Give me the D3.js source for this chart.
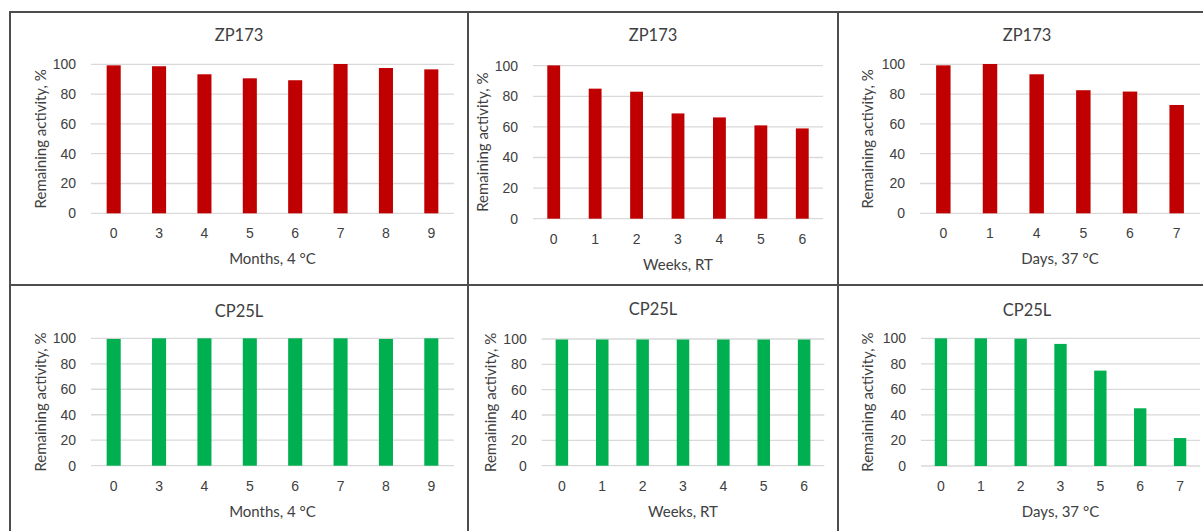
<!DOCTYPE html>
<html>
<head>
<meta charset="utf-8">
<script src="https://cdn.jsdelivr.net/npm/d3@7"></script>
<style>
  body { margin: 0; background: #fff; }
  svg { display: block; font-family: Lato, "Open Sans", sans-serif; }
</style>
</head>
<body>
<svg id="chart" width="1203" height="531"></svg>
<script>
// categories (time points)
const monthsCats = ["0", "3", "4", "5", "6", "7", "8", "9"];
const weeksCats = ["0", "1", "2", "3", "4", "5", "6"];
const daysZpCats = ["0", "1", "4", "5", "6", "7"];
const daysCpCats = ["0", "1", "2", "3", "5", "6", "7"];

// remaining activity, %
const zpMonths = [99.3, 98.7, 93.3, 90.6, 89.3, 100.2, 97.5, 96.6];
const zpWeeks = [100.2, 85, 83, 68.8, 66.2, 61, 59];
const zpDays = [99.3, 100.2, 93.3, 82.6, 81.7, 72.7];
const cpMonths = [99.5, 100, 100, 100, 100, 100, 99.5, 100];
const cpWeeks = [99.6, 99.6, 99.6, 99.6, 99.6, 99.6, 99.6];
const cpDays = [100, 100, 99.7, 95.6, 74.7, 45.2, 21.9];

const yTicks = [0, 20, 40, 60, 80, 100];
const yTitle = "Remaining activity, %";

const RED = "#C00000";
const GREEN = "#00B050";
const TEXT = "#404040";

// each panel: data + where its plot area sits in the picture
const panels = [
  { title: "ZP173", xTitle: "Months, 4 °C", cats: monthsCats, vals: zpMonths, color: RED,
    titleX: 239, titleY: 35, yTitleX: 40, left: 91, right: 454, top: 64.3, bottom: 213.3 },
  { title: "ZP173", xTitle: "Weeks, RT", cats: weeksCats, vals: zpWeeks, color: RED,
    titleX: 653, titleY: 35, yTitleX: 482, left: 533, right: 823, top: 65.7, bottom: 218.7 },
  { title: "ZP173", xTitle: "Days, 37 °C", cats: daysZpCats, vals: zpDays, color: RED,
    titleX: 1027, titleY: 35, yTitleX: 867, left: 920, right: 1200, top: 64.3, bottom: 213.3 },
  { title: "CP25L", xTitle: "Months, 4 °C", cats: monthsCats, vals: cpMonths, color: GREEN,
    titleX: 239, titleY: 311, yTitleX: 40, left: 91, right: 454, top: 338.3, bottom: 465.7 },
  { title: "CP25L", xTitle: "Weeks, RT", cats: weeksCats, vals: cpWeeks, color: GREEN,
    titleX: 653, titleY: 309, yTitleX: 490, left: 541.7, right: 824.3, top: 339, bottom: 465.7 },
  { title: "CP25L", xTitle: "Days, 37 °C", cats: daysCpCats, vals: cpDays, color: GREEN,
    titleX: 1027, titleY: 310, yTitleX: 867, left: 921, right: 1200, top: 338.3, bottom: 466 }
];

const svg = d3.select("#chart");

function drawPanel(p) {
  const g = svg.append("g");

  const x = d3.scaleBand()
    .domain(p.cats)
    .range([p.left, p.right])
    .paddingInner(0.69)
    .paddingOuter(0.345);

  const y = d3.scaleLinear()
    .domain([0, 100])
    .range([p.bottom, p.top]);

  // gridlines
  g.append("g")
    .selectAll("line")
    .data(yTicks)
    .join("line")
    .attr("x1", p.left)
    .attr("x2", p.right)
    .attr("y1", d => y(d))
    .attr("y2", d => y(d))
    .attr("stroke", "#D9D9D9")
    .attr("stroke-width", 1.3);

  // bars
  g.append("g")
    .selectAll("rect")
    .data(p.vals)
    .join("rect")
    .attr("x", (d, i) => x(p.cats[i]))
    .attr("width", x.bandwidth())
    .attr("y", d => y(d))
    .attr("height", d => y(0) - y(d))
    .attr("fill", p.color);

  // y axis (labels only)
  const yAxis = g.append("g")
    .attr("transform", `translate(${p.left},0)`)
    .call(d3.axisLeft(y).tickValues(yTicks).tickSize(0).tickPadding(15));
  yAxis.select(".domain").remove();
  yAxis.selectAll("text")
    .attr("fill", TEXT)
    .style("font-size", "14px");

  // x axis (labels only)
  const xAxis = g.append("g")
    .attr("transform", `translate(0,${p.bottom})`)
    .call(d3.axisBottom(x).tickSize(0).tickPadding(15));
  xAxis.select(".domain").remove();
  xAxis.selectAll("text")
    .attr("fill", TEXT)
    .style("font-size", "14px");

  // chart title
  g.append("text")
    .attr("x", p.titleX)
    .attr("y", p.titleY)
    .attr("text-anchor", "middle")
    .attr("dominant-baseline", "central")
    .attr("fill", TEXT)
    .style("font-size", "16.5px")
    .text(p.title);

  // x axis title
  g.append("text")
    .attr("x", (p.left + p.right) / 2)
    .attr("y", p.bottom + 45)
    .attr("text-anchor", "middle")
    .attr("dominant-baseline", "central")
    .attr("fill", TEXT)
    .style("font-size", "15px")
    .text(p.xTitle);

  // y axis title
  g.append("text")
    .attr("transform", `translate(${p.yTitleX},${(p.top + p.bottom) / 2}) rotate(-90)`)
    .attr("text-anchor", "middle")
    .attr("dominant-baseline", "central")
    .attr("fill", TEXT)
    .style("font-size", "15px")
    .text(yTitle);
}

panels.forEach(drawPanel);

// table frame round the six charts
const frame = svg.append("g")
  .attr("stroke", "#4D4D4D")
  .attr("stroke-width", 2);
frame.append("line").attr("x1", 9).attr("x2", 1203).attr("y1", 12).attr("y2", 12);
frame.append("line").attr("x1", 9).attr("x2", 1203).attr("y1", 285).attr("y2", 285);
[10, 468, 838].forEach(xv => {
  frame.append("line").attr("x1", xv).attr("x2", xv).attr("y1", 11).attr("y2", 531);
});
</script>
</body>
</html>
